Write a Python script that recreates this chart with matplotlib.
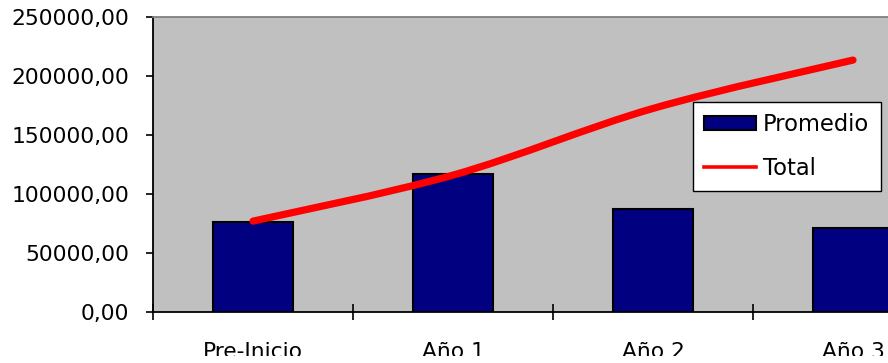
import numpy as np
import matplotlib.pyplot as plt
from matplotlib.path import Path
from matplotlib.patches import PathPatch, Patch, Rectangle
from matplotlib.lines import Line2D
from matplotlib.ticker import FuncFormatter

categorias = ['Pre-Inicio', 'Año 1', 'Año 2', 'Año 3']
promedio = [76300, 117200, 87000, 71500]
total = [77000, 116000, 172500, 213500]


def smooth_path(xs, ys):
    # smoothed line like spreadsheet charts: cubic bezier through every point
    pts = np.column_stack([xs, ys]).astype(float)
    ext = np.vstack([pts[0], pts, pts[-1]])
    verts = [tuple(pts[0])]
    codes = [Path.MOVETO]
    for i in range(len(pts) - 1):
        p0, p1, p2, p3 = ext[i], ext[i + 1], ext[i + 2], ext[i + 3]
        c1 = p1 + (p2 - p0) / 6.0
        c2 = p2 - (p3 - p1) / 6.0
        verts += [tuple(c1), tuple(c2), tuple(p2)]
        codes += [Path.CURVE4] * 3
    return Path(verts, codes)


fig = plt.figure(figsize=(8.88, 3.63), dpi=100)
fig.patch.set_facecolor('white')
W, H = 888, 363
ax = fig.add_axes([153 / W, (H - 312) / H, 800 / W, 295 / H])
ax.set_facecolor('#C0C0C0')

x = np.arange(len(categorias))
ax.bar(x, promedio, width=0.4, color='#000080', edgecolor='black', linewidth=1.5, zorder=2)

line = PathPatch(smooth_path(x, total), facecolor='none', edgecolor='#FF0000',
                 linewidth=5.2, capstyle='round', joinstyle='round', zorder=3)
ax.add_patch(line)

ax.set_xlim(-0.5, len(categorias) - 0.5)
ax.set_ylim(0, 250000)
ax.set_yticks(np.arange(0, 250001, 50000))
ax.yaxis.set_major_formatter(FuncFormatter(lambda v, p: f'{v:.2f}'.replace('.', ',')))
ax.tick_params(axis='y', length=5, width=1.2, pad=12, labelsize=15.7, direction='out')

ax.set_xticks(np.arange(-0.5, len(categorias), 1.0))
ax.set_xticklabels([])
ax.set_xticks(x, minor=True)
ax.set_xticklabels(categorias, minor=True)
ax.tick_params(axis='x', which='major', direction='inout', length=11, width=1.2)
ax.tick_params(axis='x', which='minor', length=0, pad=21.5, labelsize=15.7)

for s in ['left', 'bottom']:
    ax.spines[s].set_color('black')
    ax.spines[s].set_linewidth(1.3)
ax.spines['top'].set_color('#808080')
ax.spines['top'].set_linewidth(1.3)
ax.spines['right'].set_visible(False)

handles = [Patch(facecolor='#000080', edgecolor='black', linewidth=1.5),
           Line2D([], [], color='#FF0000', linewidth=2.6)]
leg = ax.legend(handles, ['Promedio', 'Total'], loc='upper left',
                bbox_to_anchor=(0.675, 0.712), borderaxespad=0, fontsize=16.3,
                frameon=True, fancybox=False, handlelength=2.3, handleheight=0.6,
                handletextpad=0.3, labelspacing=0.9, borderpad=0.5)
leg.get_frame().set_edgecolor('black')
leg.get_frame().set_linewidth(1.0)
leg.get_frame().set_facecolor('white')
leg.get_frame().set_alpha(1)

# bottom strip of the canvas is blank, trimming the category labels
fig.add_artist(Rectangle((0, 0), 1, 7 / H, transform=fig.transFigure,
                         facecolor='white', edgecolor='none', zorder=10))

fig.savefig('out.png', dpi=100)
